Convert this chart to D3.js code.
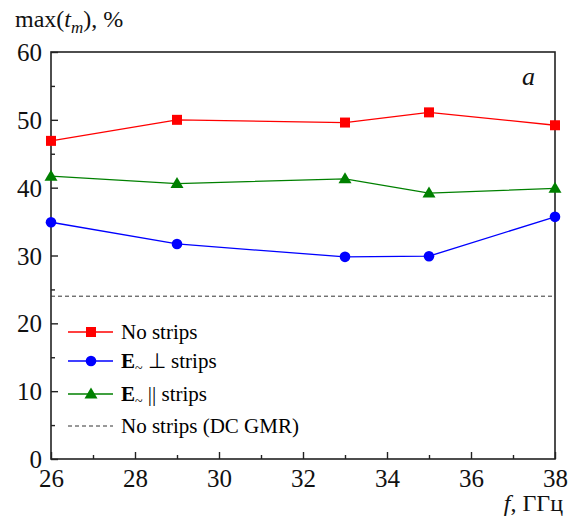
<!DOCTYPE html>
<html><head><meta charset="utf-8">
<script src="https://cdn.jsdelivr.net/npm/d3@7"></script>
<style>body{margin:0;background:#fff}svg{display:block}</style>
</head><body><svg id="c" width="578" height="523"></svg>
<script>
const freqs = [26, 29, 33, 35, 38];
const noStrips = [46.9, 50.0, 49.6, 51.1, 49.2];
const ePerp = [34.9, 31.7, 29.8, 29.9, 35.7];
const ePar = [41.7, 40.6, 41.3, 39.2, 39.9];
const dcGmr = 24.0;
const xTicks = [26, 28, 30, 32, 34, 36, 38];
const yTicks = [0, 10, 20, 30, 40, 50, 60];

const svg = d3.select("#c");
const L = 51, R = 555, T = 52, B = 459;
const x = d3.scaleLinear().domain([26, 38]).range([L, R]);
const y = d3.scaleLinear().domain([0, 60]).range([B, T]);

svg.append("rect").attr("x", L).attr("y", T).attr("width", R - L).attr("height", B - T)
  .attr("fill", "none").attr("stroke", "#222").attr("stroke-width", 1.6);

const gx = svg.append("g").attr("transform", `translate(0,${B})`);
gx.call(d3.axisBottom(x).tickValues(d3.range(27, 38, 2)).tickSize(-4).tickFormat(""));
const gxM = svg.append("g").attr("transform", `translate(0,${B})`);
gxM.call(d3.axisBottom(x).tickValues(xTicks).tickSize(-7).tickFormat(d3.format("d")));
const gy = svg.append("g").attr("transform", `translate(${L},0)`);
gy.call(d3.axisLeft(y).tickValues(d3.range(5, 60, 10)).tickSize(-4).tickFormat(""));
const gyM = svg.append("g").attr("transform", `translate(${L},0)`);
gyM.call(d3.axisLeft(y).tickValues(yTicks).tickSize(-7).tickFormat(d3.format("d")));
svg.selectAll(".domain").remove();
svg.selectAll(".tick line").attr("stroke", "#222").attr("stroke-width", 1.4);
svg.selectAll(".tick text").attr("font-size", 25).attr("fill", "#111");
gxM.selectAll(".tick text").attr("dy", null).attr("y", 28);
gyM.selectAll(".tick text").attr("dy", "0.34em").attr("x", -9);

svg.append("line").attr("x1", x(26)).attr("x2", x(38)).attr("y1", y(dcGmr)).attr("y2", y(dcGmr))
  .attr("stroke", "#333").attr("stroke-width", 1).attr("stroke-dasharray", "4,3");

const series = [
  {vals: noStrips, color: "#ff0000", shape: "square"},
  {vals: ePerp, color: "#0000ff", shape: "circle"},
  {vals: ePar, color: "#008000", shape: "triangle"}
];
const line = d3.line().x((d, i) => x(freqs[i])).y(d => y(d));
function marker(g, shape, color, cx, cy) {
  if (shape === "square") g.append("rect").attr("x", cx - 5).attr("y", cy - 5).attr("width", 10).attr("height", 10).attr("fill", color);
  else if (shape === "circle") g.append("circle").attr("cx", cx).attr("cy", cy).attr("r", 5.3).attr("fill", color);
  else g.append("path").attr("d", `M${cx},${cy - 6.5}L${cx + 6.5},${cy + 4.5}L${cx - 6.5},${cy + 4.5}Z`).attr("fill", color);
}
series.forEach(s => {
  svg.append("path").datum(s.vals).attr("d", line).attr("fill", "none").attr("stroke", s.color).attr("stroke-width", 1.3);
  const g = svg.append("g");
  s.vals.forEach((v, i) => marker(g, s.shape, s.color, x(freqs[i]), y(v)));
});

const legY = [332, 361, 394, 426];
const leg = svg.append("g");
series.forEach((s, i) => {
  leg.append("line").attr("x1", 68).attr("x2", 113).attr("y1", legY[i]).attr("y2", legY[i]).attr("stroke", s.color).attr("stroke-width", 1.3);
  marker(leg, s.shape, s.color, 91, legY[i]);
});
leg.append("line").attr("x1", 68).attr("x2", 113).attr("y1", legY[3]).attr("y2", legY[3]).attr("stroke", "#333").attr("stroke-dasharray", "4,3");
const fs = 21;
leg.append("text").attr("x", 121).attr("y", legY[0] + 7).attr("font-size", fs).text("No strips");
let t2 = leg.append("text").attr("x", 121).attr("y", legY[1] + 7).attr("font-size", fs);
t2.append("tspan").attr("font-weight", "bold").text("E");
t2.append("tspan").attr("dy", 5).attr("font-size", 14).text("~");
t2.append("tspan").attr("dy", -5).text(" \u22A5 strips");
let t3 = leg.append("text").attr("x", 121).attr("y", legY[2] + 7).attr("font-size", fs);
t3.append("tspan").attr("font-weight", "bold").text("E");
t3.append("tspan").attr("dy", 5).attr("font-size", 14).text("~");
t3.append("tspan").attr("dy", -5).text(" || strips");
leg.append("text").attr("x", 121).attr("y", legY[3] + 7).attr("font-size", fs).text("No strips (DC GMR)");

const yt = svg.append("text").attr("x", 15).attr("y", 27).attr("font-size", 24).attr("fill", "#111");
yt.append("tspan").text("max(");
yt.append("tspan").attr("font-style", "italic").text("t");
yt.append("tspan").attr("font-style", "italic").attr("font-size", 17).attr("dy", 6).text("m");
yt.append("tspan").attr("dy", -6).text("), %");

const xt = svg.append("text").attr("x", 563).attr("y", 511).attr("text-anchor", "end").attr("font-size", 24).attr("fill", "#111");
xt.append("tspan").attr("font-style", "italic").text("f");
xt.append("tspan").text(", ГГц");

svg.append("text").attr("x", 522).attr("y", 85).attr("font-size", 26).attr("font-style", "italic").attr("fill", "#111").text("a");

svg.selectAll("text").attr("font-family", "Liberation Serif");
</script></body></html>
